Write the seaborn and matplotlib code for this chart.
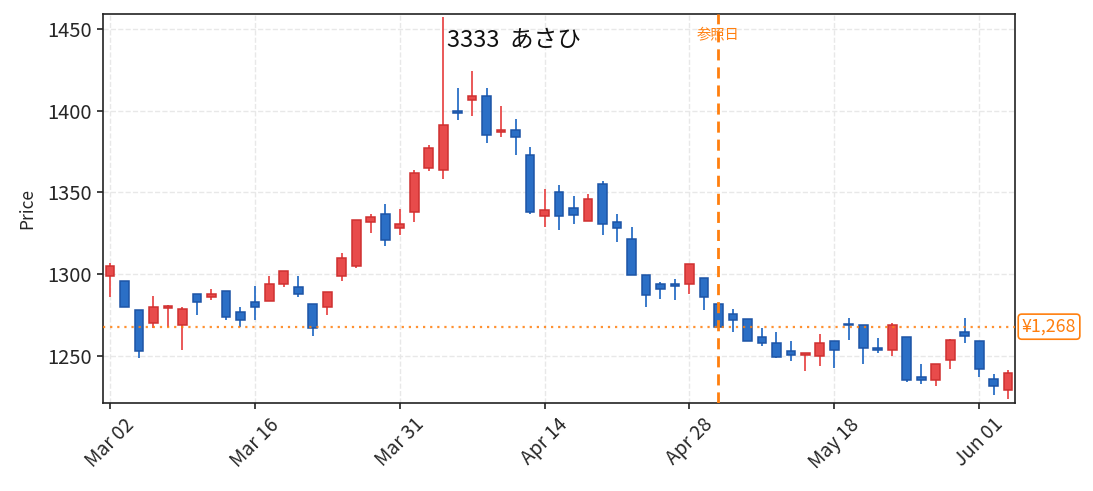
import pandas as pd
import matplotlib
matplotlib.use("Agg")
import matplotlib.pyplot as plt
import matplotlib.transforms as mtransforms
import seaborn as sns

# trading days (2020, TSE calendar)
dates = ["2020-03-02", "2020-03-03", "2020-03-04", "2020-03-05", "2020-03-06",
         "2020-03-09", "2020-03-10", "2020-03-11", "2020-03-12", "2020-03-13",
         "2020-03-16", "2020-03-17", "2020-03-18", "2020-03-19", "2020-03-23",
         "2020-03-24", "2020-03-25", "2020-03-26", "2020-03-27", "2020-03-30",
         "2020-03-31", "2020-04-01", "2020-04-02", "2020-04-03", "2020-04-06",
         "2020-04-07", "2020-04-08", "2020-04-09", "2020-04-10", "2020-04-13",
         "2020-04-14", "2020-04-15", "2020-04-16", "2020-04-17", "2020-04-20",
         "2020-04-21", "2020-04-22", "2020-04-23", "2020-04-24", "2020-04-27",
         "2020-04-28", "2020-04-30", "2020-05-01", "2020-05-07", "2020-05-08",
         "2020-05-11", "2020-05-12", "2020-05-13", "2020-05-14", "2020-05-15",
         "2020-05-18", "2020-05-19", "2020-05-20", "2020-05-21", "2020-05-22",
         "2020-05-25", "2020-05-26", "2020-05-27", "2020-05-28", "2020-05-29",
         "2020-06-01", "2020-06-02", "2020-06-03"]

opens = [1299, 1296, 1278, 1270, 1279.5, 1269, 1288, 1286, 1290, 1277,
         1283, 1283.5, 1294, 1292, 1282, 1280, 1299, 1305, 1332, 1337,
         1328, 1338, 1365, 1364, 1399.5, 1406.5, 1409, 1387, 1388, 1373,
         1335.5, 1350, 1340.5, 1332.5, 1355, 1332, 1321.5, 1299.5, 1294, 1294,
         1294, 1298, 1282, 1276, 1272.5, 1261.5, 1258, 1253, 1250.5, 1250,
         1259.5, 1269.5, 1269, 1255, 1253.5, 1261.5, 1237, 1235.5, 1247.5, 1264.5,
         1259.5, 1236, 1229.5]
highs = [1307, 1296, 1278, 1287, 1281, 1280, 1288, 1291, 1290, 1280,
         1293, 1299, 1302, 1299, 1282, 1289, 1313, 1333, 1337, 1343,
         1340, 1364, 1379, 1457, 1414, 1424, 1414, 1403, 1395, 1378,
         1352, 1354.5, 1348, 1349, 1357, 1337, 1329, 1299.5, 1295, 1297,
         1306, 1298, 1282, 1279, 1272.5, 1267, 1264.5, 1259.5, 1252, 1263.5,
         1259.5, 1273.5, 1269, 1261, 1270.5, 1261.5, 1245, 1245.5, 1260.5, 1273.5,
         1259.5, 1239, 1241.5]
lows = [1286, 1280, 1249, 1267, 1268, 1254, 1275, 1284, 1272, 1268,
        1272, 1283.5, 1292, 1286, 1262, 1275, 1296, 1304, 1325, 1317,
        1324, 1332, 1363, 1358, 1394, 1397, 1380, 1384, 1373, 1337,
        1329, 1327, 1330.5, 1332.5, 1324, 1320, 1299.5, 1280, 1285, 1284,
        1288, 1278, 1268, 1265, 1259.5, 1256, 1249, 1247, 1241, 1244,
        1243, 1260, 1245, 1252, 1250, 1234.5, 1233, 1231.5, 1242, 1258,
        1237, 1226, 1224]
closes = [1305, 1280, 1253, 1280, 1280.5, 1279, 1283, 1288, 1274, 1272,
          1280, 1294, 1302, 1288, 1267, 1289, 1310, 1333, 1335, 1321,
          1331, 1362, 1377, 1391, 1398.5, 1409, 1385, 1388, 1384, 1338,
          1339, 1335.5, 1336.5, 1346, 1330.5, 1328.5, 1299.5, 1287.5, 1291, 1293,
          1306, 1286, 1268, 1272, 1259.5, 1258, 1249.5, 1250.5, 1252, 1258,
          1253.5, 1269, 1255, 1253.5, 1269, 1235.5, 1235.5, 1245.5, 1260, 1262.5,
          1242, 1231.5, 1239.5]

ticker_label = "3333  あさひ"
ref_date = "2020-05-01"
ref_price = 1268

df = pd.DataFrame({"date": pd.to_datetime(dates), "open": opens, "high": highs,
                   "low": lows, "close": closes})
df["i"] = range(len(df))
df["up"] = df["close"] >= df["open"]

sns.set_theme(style="ticks")
plt.rcParams["font.family"] = ["Noto Sans CJK JP", "DejaVu Sans"]

fig, ax = plt.subplots(figsize=(10.93, 4.91), dpi=100)
fig.subplots_adjust(left=0.094, right=0.929, top=0.972, bottom=0.179)

up_fill, up_edge = "#e84b4b", "#cf3030"
dn_fill, dn_edge = "#2b6fc6", "#1c54a6"

# wicks + bodies
for up, fill, edge in [(True, up_fill, up_edge), (False, dn_fill, dn_edge)]:
    d = df[df["up"] == up]
    ax.vlines(d["i"], d["low"], d["high"], color=fill, lw=1.3, zorder=2)
    ax.bar(d["i"], (d["close"] - d["open"]).abs(), bottom=d[["open", "close"]].min(axis=1),
           width=0.6, color=fill, edgecolor=edge, linewidth=1.1, zorder=3)

# reference day / price
ref_i = df.index[df["date"] == pd.Timestamp(ref_date)][0]
ax.axvline(ref_i, color="#ff7f0e", ls=(0, (4, 2.5)), lw=2, zorder=5)
ax.axhline(ref_price, color="#ff7f0e", ls=(0, (1, 2.2)), lw=1.6, alpha=0.85, zorder=4)
ax.text(ref_i, 0.966, "参照日", transform=mtransforms.blended_transform_factory(ax.transData, ax.transAxes),
        ha="center", va="top", color="#ff7f0e", fontsize=10.3)
ax.text(1.007, ref_price, f"¥{ref_price:,}",
        transform=mtransforms.blended_transform_factory(ax.transAxes, ax.transData),
        ha="left", va="center", color="#ff7f0e", fontsize=12.8, clip_on=False,
        bbox=dict(boxstyle="round,pad=0.2", fc="white", ec="#ff7f0e", lw=1.2))

ax.text(0.377, 0.962, ticker_label, transform=ax.transAxes, ha="left", va="top",
        fontsize=17, color="#111111")

tick_idx = list(range(0, len(df), 10))
ax.set_xticks(tick_idx)
ax.set_xticklabels([df["date"][i].strftime("%b %d") for i in tick_idx], rotation=45)
ax.set_xlim(-0.5, len(df) - 0.5)
ax.set_ylim(1221.3, 1459.2)
ax.set_yticks([1250, 1300, 1350, 1400, 1450])
ax.set_ylabel("Price", fontsize=12.5, labelpad=8)
ax.tick_params(axis="y", labelsize=14.5, length=4.5, width=1.2, color="#222222")
ax.tick_params(axis="x", labelsize=13.8, length=4.5, width=1.2, color="#222222")
ax.grid(True, ls="--", color="#e8e8e8", lw=1)
for s in ax.spines.values():
    s.set_color("#222222")
    s.set_linewidth(1.2)

fig.savefig("out.png", dpi=100)
